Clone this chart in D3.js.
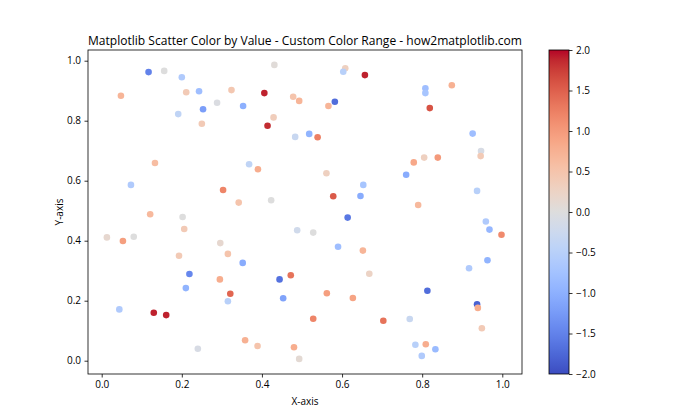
<!DOCTYPE html>
<html><head><meta charset="utf-8">
<script src="https://cdn.jsdelivr.net/npm/d3@7"></script>
<style>body{margin:0;background:#fff}svg{display:block}text{font-family:"Open Sans","Noto Sans",sans-serif;fill:#000}</style>
</head><body>
<svg id="c" width="700" height="420"></svg>
<script>
const xs = [0.117,0.156,0.431,0.200,0.048,0.211,0.243,0.324,0.406,0.478,0.493,0.288,0.253,0.353,0.191,0.429,0.250,0.414,0.483,0.133,0.368,0.390,0.073,0.303,0.342,0.423,
0.608,0.603,0.657,0.808,0.808,0.874,0.582,0.566,0.819,0.518,0.539,0.926,0.947,0.946,0.779,0.805,0.839,0.561,0.760,0.653,0.646,0.578,0.937,0.790,
0.121,0.202,0.206,0.013,0.053,0.080,0.296,0.488,0.193,0.315,0.352,0.219,0.295,0.444,0.472,0.210,0.321,0.453,0.315,0.044,0.130,0.161,0.358,0.389,0.480,0.240,0.493,
0.614,0.528,0.590,0.652,0.668,0.959,0.968,0.998,0.963,0.917,0.813,0.937,0.939,0.562,0.627,0.528,0.703,0.769,0.949,0.783,0.809,0.833,0.799];
const ys = [0.962,0.966,0.986,0.945,0.883,0.895,0.898,0.902,0.892,0.880,0.866,0.860,0.838,0.849,0.822,0.811,0.790,0.783,0.746,0.659,0.655,0.638,0.586,0.569,0.527,0.535,
0.975,0.963,0.952,0.908,0.892,0.918,0.863,0.849,0.842,0.756,0.745,0.757,0.699,0.682,0.661,0.677,0.677,0.625,0.620,0.586,0.549,0.548,0.566,0.519,
0.488,0.479,0.439,0.411,0.399,0.413,0.392,0.435,0.350,0.356,0.326,0.289,0.271,0.271,0.285,0.242,0.223,0.208,0.198,0.171,0.160,0.152,0.068,0.049,0.045,0.040,0.006,
0.477,0.427,0.380,0.367,0.290,0.464,0.437,0.420,0.335,0.308,0.233,0.188,0.176,0.225,0.209,0.140,0.133,0.139,0.108,0.053,0.055,0.038,0.016];
const vals = [-1.5,0.0,0.05,-0.6,0.7,0.4,-0.8,0.45,1.9,0.5,0.7,-0.05,-1.2,-1.0,-0.4,0.35,0.4,1.85,-0.3,0.6,-0.4,0.8,-0.6,1.2,0.5,0.0,
0.3,-0.5,1.9,-0.8,-0.7,0.75,-1.7,0.7,1.6,-0.95,1.25,-0.8,-0.1,0.4,0.85,0.3,1.0,0.3,-1.05,-0.7,-1.05,1.55,-0.5,0.65,
0.65,0.0,0.4,0.15,0.95,0.0,0.15,-0.2,0.4,0.5,-1.05,-1.45,0.8,-1.65,1.35,-0.95,1.45,-1.15,-0.5,-0.6,1.9,1.9,0.75,0.5,0.8,-0.1,0.1,
-1.6,0.0,-0.8,0.7,0.25,-0.6,-0.9,1.15,-0.95,-0.6,-1.7,-1.8,0.8,0.95,0.9,1.2,1.35,-0.3,0.4,-0.5,0.8,-0.85,-0.6];
const xTicks = [0.0,0.2,0.4,0.6,0.8,1.0];
const yTicks = [0.0,0.2,0.4,0.6,0.8,1.0];
const cTicks = [-2.0,-1.5,-1.0,-0.5,0.0,0.5,1.0,1.5,2.0];
const title = "Matplotlib Scatter Color by Value - Custom Color Range - how2matplotlib.com";

// coolwarm (Moreland) stops
const cw = [[59,76,192],[68,90,204],[77,104,215],[87,117,225],[98,130,234],[108,142,241],[119,154,247],[130,165,251],[141,176,254],[152,185,255],[163,194,255],[174,201,253],[184,208,249],[194,213,244],[204,217,238],[213,219,230],[221,221,221],[229,216,209],[236,211,197],[241,204,184],[245,196,172],[247,187,159],[247,177,147],[247,166,134],[244,154,123],[241,141,111],[236,127,99],[229,112,88],[222,96,77],[213,80,66],[203,62,56],[192,40,47],[180,4,38]].map(c=>`rgb(${c[0]},${c[1]},${c[2]})`);
const interp = d3.piecewise(d3.interpolateRgb, cw);
const color = d3.scaleSequential(interp).domain([-2,2]).clamp(true);

const svg = d3.select("#c");
const L=88, R=522, T=50, B=374;
const x = d3.scaleLinear().domain([-0.0342,1.0492]).range([L,R]);
const y = d3.scaleLinear().domain([-0.0443,1.0357]).range([B,T]);
const fmt = d => (d<0?"\u2212":"") + Math.abs(d).toFixed(1);

svg.append("g").selectAll("circle").data(xs.map((d,i)=>({x:d,y:ys[i],v:vals[i]}))).join("circle")
  .attr("cx",d=>x(d.x)).attr("cy",d=>y(d.y)).attr("r",3.3).attr("fill",d=>color(d.v));

const gx = svg.append("g").attr("transform",`translate(0,${B})`)
  .call(d3.axisBottom(x).tickValues(xTicks).tickFormat(fmt).tickSize(3.5).tickPadding(3.5));
const gy = svg.append("g").attr("transform",`translate(${L},0)`)
  .call(d3.axisLeft(y).tickValues(yTicks).tickFormat(fmt).tickSize(3.5).tickPadding(3.5));
[gx,gy].forEach(g=>{g.select(".domain").remove();g.selectAll("line").attr("stroke","#000").attr("stroke-width",0.8);
  g.selectAll("text").attr("font-size",10).attr("font-family",'"Open Sans",sans-serif').attr("fill","#000");});
svg.append("rect").attr("x",L).attr("y",T).attr("width",R-L).attr("height",B-T)
  .attr("fill","none").attr("stroke","#000").attr("stroke-width",0.8);

svg.append("text").attr("x",(L+R)/2).attr("y",45).attr("text-anchor","middle").attr("font-size",12.5)
  .attr("textLength",434).attr("lengthAdjust","spacingAndGlyphs").text(title);
svg.append("text").attr("x",(L+R)/2).attr("y",405).attr("text-anchor","middle").attr("font-size",10).text("X-axis");
svg.append("text").attr("transform",`translate(63,${(T+B)/2}) rotate(-90)`).attr("text-anchor","middle").attr("font-size",10).text("Y-axis");

// colorbar
const CL=549, CR=569;
const cy = d3.scaleLinear().domain([-2,2]).range([B,T]);
const grad = svg.append("defs").append("linearGradient").attr("id","cg").attr("x1",0).attr("y1",1).attr("x2",0).attr("y2",0);
d3.range(0,1.0001,1/64).forEach(t=>grad.append("stop").attr("offset",t).attr("stop-color",interp(t)));
svg.append("rect").attr("x",CL).attr("y",T).attr("width",CR-CL).attr("height",B-T).attr("fill","url(#cg)");
const gc = svg.append("g").attr("transform",`translate(${CR},0)`)
  .call(d3.axisRight(cy).tickValues(cTicks).tickFormat(fmt).tickSize(3.5).tickPadding(3.5));
gc.select(".domain").remove();
gc.selectAll("line").attr("stroke","#000").attr("stroke-width",0.8);
gc.selectAll("text").attr("font-size",10).attr("font-family",'"Open Sans",sans-serif').attr("fill","#000");
svg.append("rect").attr("x",CL).attr("y",T).attr("width",CR-CL).attr("height",B-T)
  .attr("fill","none").attr("stroke","#000").attr("stroke-width",0.8);
</script>
</body></html>
